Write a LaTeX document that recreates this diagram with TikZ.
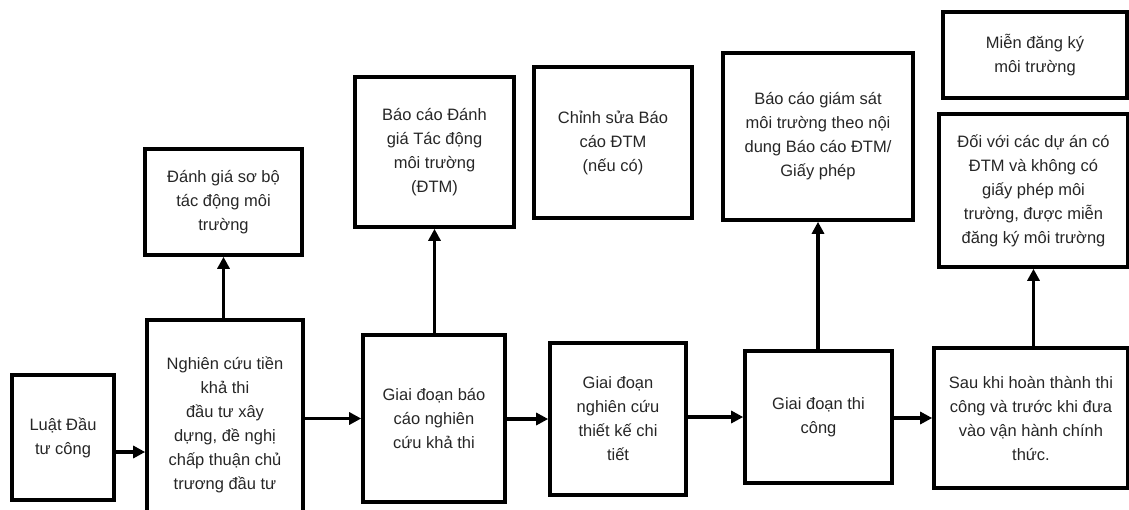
\documentclass[tikz,border=0pt]{standalone}
\usepackage{fontspec}
\setmainfont{Liberation Sans}
\usetikzlibrary{arrows.meta}
\begin{document}
\begin{tikzpicture}[x=1pt,y=-1pt,
  box/.style={draw=black, line width=3.6pt, inner sep=0pt, align=center,
    font=\fontsize{16.5}{24}\selectfont, text=black!85},
  arr/.style={line width=3.6pt, -{Triangle[length=12pt,width=12pt]}}]
\useasboundingbox (0,0) rectangle (1129,509);
\clip (0,0) rectangle (1129,509);
\node[box, minimum width=102, minimum height=125] (b1) at (63,437.5) {Luật Đầu\\tư công};
\node[box, minimum width=156, minimum height=210] (b2) at (225,425) {Nghiên cứu tiền\\khả thi\\đầu tư xây\\dựng, đề nghị\\chấp thuận chủ\\trương đầu tư};
\node[box, minimum width=157, minimum height=106] (pre) at (223.5,202) {Đánh giá sơ bộ\\tác động môi\\trường};
\node[box, minimum width=142, minimum height=167] (b3) at (434,418.5) {Giai đoạn báo\\cáo nghiên\\cứu khả thi};
\node[box, minimum width=159, minimum height=150] (dtm) at (434.5,152) {Báo cáo Đánh\\giá Tác động\\môi trường\\(ĐTM)};
\node[box, minimum width=158, minimum height=151] (cs) at (613,142.5) {Chỉnh sửa Báo\\cáo ĐTM\\(nếu có)};
\node[box, minimum width=136, minimum height=152] (b4) at (618,419) {Giai đoạn\\nghiên cứu\\thiết kế chi\\tiết};
\node[box, minimum width=190, minimum height=167] (gs) at (818,136.5) {Báo cáo giám sát\\môi trường theo nội\\dung Báo cáo ĐTM/\\Giấy phép};
\node[box, minimum width=147, minimum height=132] (b5) at (818.5,417) {Giai đoạn thi\\công};
\node[box, minimum width=184, minimum height=86] (mien) at (1035,55) {Miễn đăng ký\\môi trường};
\node[box, minimum width=189, minimum height=153] (doi) at (1033.5,190.5) {Đối với các dự án có\\ĐTM và không có\\giấy phép môi\\trường, được miễn\\đăng ký môi trường};
\node[box, minimum width=194, minimum height=140] (b6) at (1031,418) {Sau khi hoàn thành thi\\công và trước khi đưa\\vào vận hành chính\\thức.};
\draw[arr] (b1.east |- 0,452) -- (b2.west |- 0,452);
\draw[arr] (b2.east |- b3.west) -- (b3.west);
\draw[arr] (b3.east |- b4.west) -- (b4.west);
\draw[arr] (b4.east |- b5.west) -- (b5.west);
\draw[arr] (b5.east |- b6.west) -- (b6.west);
\draw[arr] (pre.south |- b2.north) -- (pre.south);
\draw[arr] (dtm.south |- b3.north) -- (dtm.south);
\draw[arr] (gs.south |- b5.north) -- (gs.south);
\draw[arr] (doi.south |- b6.north) -- (doi.south);
\end{tikzpicture}
\end{document}
